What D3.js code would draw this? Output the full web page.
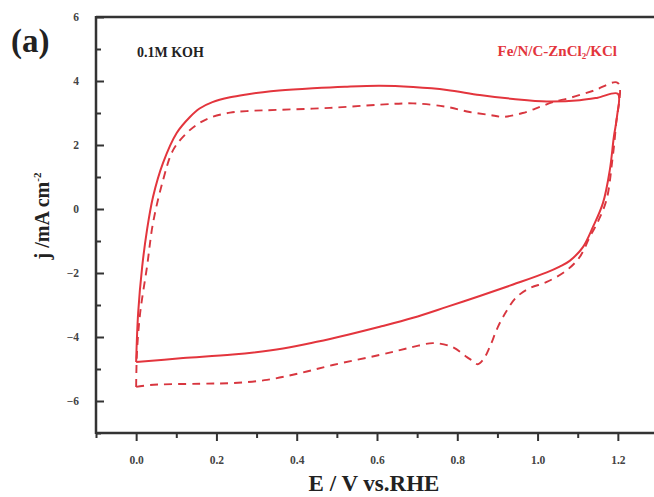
<!DOCTYPE html>
<html>
<head>
<meta charset="utf-8">
<script src="https://cdn.jsdelivr.net/npm/d3@7"></script>
<style>
  html, body { margin: 0; padding: 0; background: #fff; }
  svg { display: block; }
  text { font-family: "Liberation Serif", "Times New Roman", serif; font-weight: bold; }
</style>
</head>
<body>
<svg id="chart" width="654" height="497"></svg>
<script>
// Cyclic voltammogram of Fe/N/C-ZnCl2/KCl in 0.1 M KOH
// Solid: N2-saturated; dashed: O2-saturated. Each loop = anodic sweep then cathodic sweep.
const solidE = [0.0, 0.005, 0.015, 0.027, 0.042, 0.067, 0.101, 0.134, 0.158, 0.19, 0.234, 0.275, 0.316, 0.356, 0.44, 0.52, 0.607, 0.69, 0.774, 0.856, 0.939, 1.023, 1.105, 1.15, 1.2,
                1.198, 1.19, 1.18, 1.163, 1.138, 1.113, 1.08, 1.055, 1.023, 0.939, 0.856, 0.774, 0.69, 0.607, 0.53, 0.45, 0.366, 0.241, 0.117, 0.0];
const solidJ = [-4.78, -3.25, -1.81, -0.66, 0.375, 1.44, 2.375, 2.875, 3.14, 3.34, 3.49, 3.58, 3.65, 3.70, 3.77, 3.82, 3.85, 3.81, 3.72, 3.56, 3.44, 3.36, 3.40, 3.48, 3.60,
                2.9, 2.25, 1.22, 0.19, -0.56, -1.19, -1.62, -1.80, -1.98, -2.36, -2.72, -3.06, -3.40, -3.68, -3.92, -4.15, -4.36, -4.55, -4.66, -4.78];

const dashE = [0.0, 0.002, 0.01, 0.027, 0.042, 0.067, 0.092, 0.126, 0.158, 0.19, 0.234, 0.275, 0.358, 0.483, 0.607, 0.69, 0.774, 0.831, 0.881, 0.914, 0.963, 1.006, 1.038, 1.08, 1.14, 1.2,
               1.195, 1.186, 1.172, 1.152, 1.13, 1.105, 1.073, 1.023, 0.981, 0.948, 0.924, 0.901, 0.881, 0.865, 0.851, 0.835, 0.824, 0.787, 0.739, 0.69, 0.657, 0.607, 0.49, 0.408, 0.326, 0.241, 0.159, 0.035, 0.0];
const dashJ = [-5.56, -4.5, -3.25, -1.81, -0.44, 0.9, 1.84, 2.375, 2.69, 2.88, 3.01, 3.06, 3.10, 3.16, 3.26, 3.30, 3.19, 3.03, 2.94, 2.88, 3.0, 3.19, 3.34, 3.47, 3.70, 3.94,
               2.6, 1.5, 0.3, -0.35, -0.875, -1.5, -1.91, -2.28, -2.47, -2.75, -3.16, -3.69, -4.31, -4.7, -4.85, -4.72, -4.63, -4.31, -4.19, -4.31, -4.41, -4.56, -4.875, -5.13, -5.34, -5.44, -5.46, -5.5, -5.56];

const xMajor = [0.0, 0.2, 0.4, 0.6, 0.8, 1.0, 1.2];
const xMinor = [-0.1, 0.1, 0.3, 0.5, 0.7, 0.9, 1.1];
const yMajor = [-6, -4, -2, 0, 2, 4, 6];
const yMinor = [-7, -5, -3, -1, 1, 3, 5];

const lineColor = "#e3353d";
const axisColor = "#333";

const svg = d3.select("#chart");
const plotLeft = 96, plotTop = 17, plotBottom = 433, plotRight = 658;

const x = d3.scaleLinear().domain([-0.1, 1.3]).range([plotLeft, plotRight]);
const y = d3.scaleLinear().domain([-7, 6]).range([plotBottom, plotTop]);

// Curves
const line = d3.line()
  .x(d => x(d[0]))
  .y(d => y(d[1]))
  .curve(d3.curveCatmullRom.alpha(0.5));

svg.append("path")
  .datum(dashE.map((e, i) => [e, dashJ[i]]))
  .attr("d", line)
  .attr("fill", "none")
  .attr("stroke", "#d8363f")
  .attr("stroke-width", 1.9)
  .attr("stroke-dasharray", "8,6");

svg.append("path")
  .datum(solidE.map((e, i) => [e, solidJ[i]]))
  .attr("d", line)
  .attr("fill", "none")
  .attr("stroke", lineColor)
  .attr("stroke-width", 2);

// Frame top edge
svg.append("line").attr("x1", plotLeft).attr("x2", 660).attr("y1", plotTop).attr("y2", plotTop)
  .attr("stroke", axisColor).attr("stroke-width", 2.5);

// X axis, ticks pointing out
const gx = svg.append("g").attr("transform", `translate(0,${plotBottom})`)
  .call(d3.axisBottom(x).tickValues(xMajor).tickSize(8).tickPadding(15).tickFormat(d3.format(".1f")));
gx.select(".domain").remove();
gx.selectAll(".tick line").attr("stroke", axisColor).attr("stroke-width", 2);
gx.selectAll(".tick text").attr("fill", "#444").attr("font-size", 11.5)
  .style("font-family", '"Liberation Serif", serif').style("font-weight", "bold");

const gxm = svg.append("g").attr("transform", `translate(0,${plotBottom})`)
  .call(d3.axisBottom(x).tickValues(xMinor).tickSize(5).tickFormat(""));
gxm.select(".domain").remove();
gxm.selectAll(".tick line").attr("stroke", axisColor).attr("stroke-width", 2);

// Y axis, ticks pointing in
const gy = svg.append("g").attr("transform", `translate(${plotLeft},0)`)
  .call(d3.axisLeft(y).tickValues(yMajor).tickSize(-8).tickPadding(14).tickFormat(d3.format("d")));
gy.select(".domain").remove();
gy.selectAll(".tick line").attr("stroke", axisColor).attr("stroke-width", 2);
gy.selectAll(".tick text").attr("fill", "#444").attr("font-size", 11.5)
  .attr("x", -17)
  .style("font-family", '"Liberation Serif", serif').style("font-weight", "bold");

const gym = svg.append("g").attr("transform", `translate(${plotLeft},0)`)
  .call(d3.axisLeft(y).tickValues(yMinor).tickSize(-5).tickFormat(""));
gym.select(".domain").remove();
gym.selectAll(".tick line").attr("stroke", axisColor).attr("stroke-width", 2);

svg.append("line").attr("x1", plotLeft).attr("x2", 660).attr("y1", plotBottom).attr("y2", plotBottom)
  .attr("stroke", axisColor).attr("stroke-width", 2.5);
svg.append("line").attr("x1", plotLeft).attr("x2", plotLeft).attr("y1", plotTop - 1).attr("y2", plotBottom + 1)
  .attr("stroke", axisColor).attr("stroke-width", 2.5);

// Axis titles
svg.append("text")
  .attr("x", 374).attr("y", 491)
  .attr("text-anchor", "middle")
  .attr("font-size", 23)
  .attr("fill", "#222")
  .text("E / V vs.RHE");

const yl = svg.append("text")
  .attr("transform", "translate(49,216) rotate(-90)")
  .attr("text-anchor", "middle")
  .attr("font-size", 20)
  .attr("fill", "#222");
yl.append("tspan").text("j /mA cm");
yl.append("tspan").attr("font-size", 11).attr("dy", -8).text("-2");

// Panel tag and annotations
svg.append("text").attr("x", 11).attr("y", 52).attr("font-size", 33).attr("fill", "#222").text("(a)");

svg.append("text").attr("x", 137).attr("y", 57).attr("font-size", 14).attr("fill", "#222").text("0.1M KOH");

const lg = svg.append("text").attr("x", 617).attr("y", 56).attr("text-anchor", "end")
  .attr("font-size", 15).attr("fill", lineColor);
lg.append("tspan").text("Fe/N/C-ZnCl");
lg.append("tspan").attr("font-size", 9).attr("dy", 3).text("2");
lg.append("tspan").attr("dy", -3).text("/KCl");
</script>
</body>
</html>
